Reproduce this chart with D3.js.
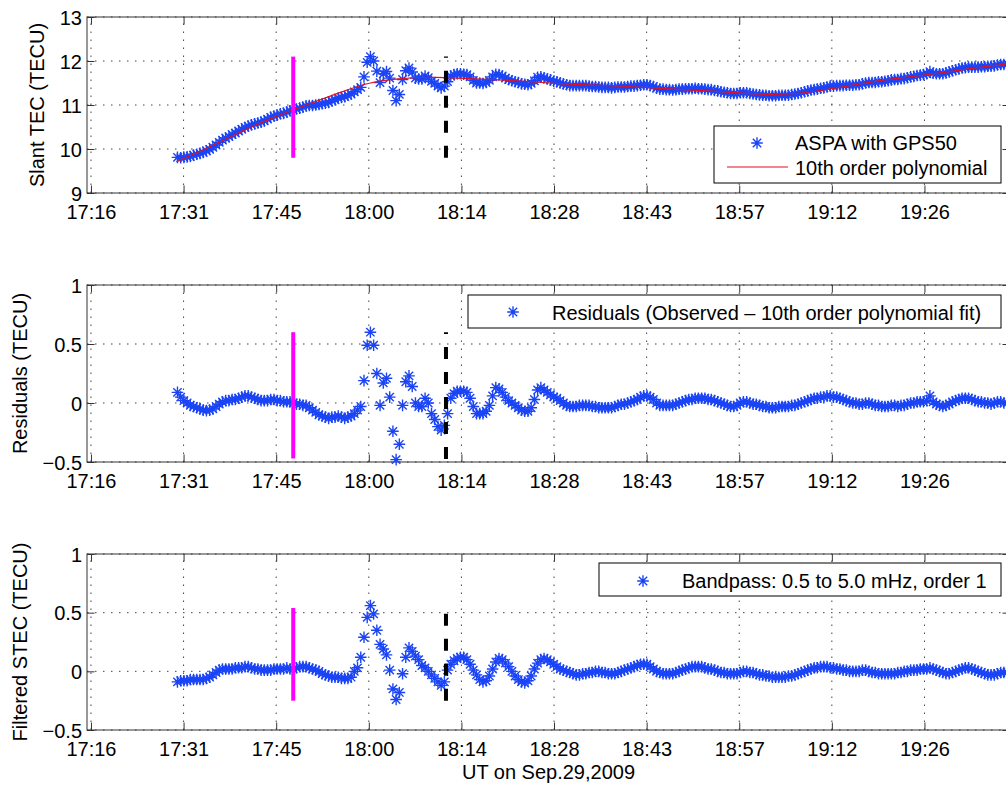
<!DOCTYPE html>
<html>
<head>
<meta charset="utf-8">
<script src="https://cdn.jsdelivr.net/npm/d3@7"></script>
<style>
  body { margin: 0; background: #fff; }
  svg { display: block; }
  text { font-family: "Liberation Sans", Arial, Helvetica, sans-serif; font-size: 20px; fill: #000; }
</style>
</head>
<body>
<svg id="chart" width="1006" height="785"></svg>
<script>
// ---- data ----
const sampleStart = "17:30:15";   // first sample, UT
const sampleStepSec = 30;         // 30 s sampling

const slantTec = [
  9.81,9.80,9.81,9.82,9.83,9.86,9.88,9.90,9.92,9.96,
  9.99,10.04,10.09,10.15,10.20,10.25,10.28,10.33,10.36,10.41,
  10.45,10.49,10.52,10.55,10.57,10.59,10.61,10.64,10.68,10.72,
  10.75,10.77,10.80,10.81,10.84,10.87,10.89,10.91,10.93,10.95,
  10.98,10.99,10.99,11.00,11.01,11.03,11.04,11.06,11.10,11.12,
  11.16,11.17,11.19,11.22,11.25,11.30,11.35,11.40,11.64,11.97,
  12.10,12.00,11.77,11.51,11.71,11.76,11.61,11.33,11.10,11.24,
  11.58,11.78,11.84,11.75,11.61,11.59,11.59,11.66,11.62,11.54,
  11.49,11.43,11.39,11.43,11.53,11.66,11.69,11.71,11.71,11.70,
  11.69,11.64,11.56,11.50,11.50,11.49,11.51,11.56,11.64,11.70,
  11.69,11.66,11.61,11.58,11.55,11.53,11.51,11.48,11.47,11.46,
  11.49,11.55,11.63,11.64,11.62,11.59,11.57,11.54,11.53,11.50,
  11.48,11.46,11.44,11.44,11.44,11.44,11.44,11.44,11.43,11.42,
  11.42,11.41,11.40,11.40,11.40,11.39,11.40,11.41,11.41,11.41,
  11.42,11.43,11.43,11.44,11.45,11.46,11.46,11.44,11.42,11.38,
  11.36,11.36,11.35,11.35,11.34,11.35,11.36,11.36,11.37,11.37,
  11.37,11.38,11.37,11.37,11.36,11.35,11.35,11.33,11.32,11.30,
  11.29,11.28,11.26,11.26,11.26,11.28,11.28,11.28,11.26,11.25,
  11.24,11.23,11.22,11.22,11.21,11.21,11.21,11.22,11.22,11.22,
  11.22,11.24,11.25,11.26,11.28,11.30,11.32,11.34,11.35,11.36,
  11.38,11.39,11.41,11.43,11.43,11.44,11.44,11.44,11.45,11.45,
  11.45,11.46,11.46,11.48,11.50,11.51,11.51,11.51,11.53,11.53,
  11.54,11.55,11.57,11.58,11.58,11.60,11.60,11.62,11.64,11.65,
  11.67,11.68,11.69,11.71,11.76,11.72,11.71,11.71,11.71,11.73,
  11.75,11.78,11.80,11.82,11.84,11.85,11.86,11.86,11.86,11.86,
  11.87,11.87,11.88,11.88,11.89,11.91,11.92,11.92,11.93,11.94
];

// 10th order polynomial, read every 5 min from the first sample
const polyStepSec = 300;
const polyFit = [
  9.72,10.05,10.40,10.72,11.00,11.27,11.50,11.60,11.63,11.60,
  11.57,11.53,11.48,11.45,11.42,11.38,11.34,11.30,11.25,11.25,
  11.33,11.45,11.57,11.66,11.76,11.86,11.95
];

const residuals = [
  0.09,0.05,0.02,0.00,-0.02,-0.03,-0.04,-0.05,-0.06,-0.065,
  -0.06,-0.05,-0.03,-0.01,0.01,0.02,0.02,0.03,0.03,0.04,
  0.05,0.06,0.06,0.05,0.04,0.03,0.02,0.02,0.02,0.03,
  0.03,0.02,0.02,0.01,0.01,0.01,0.00,-0.01,-0.01,-0.02,
  -0.02,-0.04,-0.06,-0.08,-0.10,-0.11,-0.12,-0.13,-0.12,-0.12,
  -0.11,-0.12,-0.13,-0.12,-0.11,-0.09,-0.06,-0.03,0.19,0.49,
  0.60,0.49,0.25,-0.02,0.17,0.21,0.05,-0.24,-0.48,-0.35,
  -0.02,0.18,0.23,0.14,0.00,-0.03,-0.03,0.04,0.00,-0.09,
  -0.14,-0.20,-0.23,-0.19,-0.09,0.04,0.08,0.10,0.10,0.10,
  0.09,0.04,-0.03,-0.09,-0.09,-0.09,-0.07,-0.02,0.06,0.13,
  0.12,0.09,0.05,0.02,0.00,-0.02,-0.04,-0.06,-0.07,-0.07,
  -0.04,0.03,0.11,0.13,0.11,0.09,0.07,0.05,0.04,0.02,
  0.00,-0.02,-0.03,-0.03,-0.03,-0.02,-0.02,-0.02,-0.02,-0.03,
  -0.03,-0.04,-0.04,-0.04,-0.04,-0.04,-0.03,-0.02,-0.01,-0.01,
  0.00,0.01,0.02,0.03,0.05,0.06,0.06,0.05,0.03,0.00,
  -0.02,-0.02,-0.02,-0.02,-0.02,-0.01,0.00,0.01,0.02,0.03,
  0.03,0.04,0.04,0.04,0.04,0.03,0.03,0.02,0.01,0.00,
  -0.01,-0.02,-0.03,-0.03,-0.02,0.00,0.01,0.01,0.00,-0.01,
  -0.01,-0.02,-0.03,-0.03,-0.04,-0.04,-0.04,-0.03,-0.03,-0.03,
  -0.03,-0.02,-0.02,-0.01,0.00,0.01,0.02,0.03,0.04,0.04,
  0.05,0.05,0.06,0.06,0.05,0.05,0.04,0.03,0.02,0.01,
  0.00,0.00,-0.01,-0.01,0.00,0.00,-0.01,-0.02,-0.02,-0.03,
  -0.03,-0.03,-0.02,-0.02,-0.03,-0.02,-0.02,-0.01,0.00,0.00,
  0.01,0.01,0.01,0.02,0.06,0.01,-0.01,-0.02,-0.03,-0.02,
  -0.01,0.01,0.02,0.03,0.04,0.04,0.04,0.03,0.02,0.01,
  0.01,0.00,0.00,-0.01,0.00,0.01,0.01,0.00,0.00,0.00
];

const filtered = [
  -0.09,-0.08,-0.08,-0.08,-0.07,-0.07,-0.07,-0.07,-0.07,-0.06,
  -0.05,-0.03,-0.01,0.01,0.02,0.02,0.02,0.02,0.03,0.03,
  0.03,0.04,0.04,0.03,0.02,0.02,0.01,0.01,0.01,0.01,
  0.02,0.02,0.02,0.02,0.03,0.02,0.02,0.03,0.04,0.04,
  0.04,0.03,0.02,0.01,0.00,-0.02,-0.03,-0.04,-0.05,-0.05,
  -0.05,-0.06,-0.06,-0.06,-0.05,0.00,0.03,0.12,0.29,0.46,
  0.56,0.49,0.35,0.23,0.19,0.14,0.01,-0.15,-0.24,-0.18,
  -0.02,0.12,0.20,0.17,0.13,0.10,0.05,0.03,0.00,-0.03,
  -0.06,-0.09,-0.12,-0.09,0.01,0.06,0.09,0.11,0.12,0.12,
  0.10,0.06,0.01,-0.03,-0.07,-0.09,-0.08,-0.04,0.02,0.08,
  0.11,0.10,0.07,0.04,0.00,-0.04,-0.07,-0.09,-0.10,-0.08,
  -0.04,0.02,0.07,0.10,0.11,0.10,0.08,0.06,0.04,0.02,
  0.01,0.00,-0.01,-0.02,-0.03,-0.03,-0.02,-0.02,-0.01,-0.01,
  0.00,0.00,-0.01,-0.01,-0.02,-0.02,-0.02,-0.01,0.00,0.01,
  0.02,0.03,0.04,0.05,0.06,0.06,0.06,0.04,0.02,0.00,
  -0.01,-0.02,-0.02,-0.02,-0.02,-0.01,0.00,0.01,0.02,0.03,
  0.04,0.04,0.04,0.04,0.03,0.02,0.02,0.01,0.00,-0.01,
  -0.01,-0.02,-0.02,-0.02,-0.02,-0.01,0.00,0.00,-0.01,-0.01,
  -0.02,-0.03,-0.03,-0.04,-0.04,-0.05,-0.05,-0.05,-0.05,-0.05,
  -0.04,-0.04,-0.03,-0.02,-0.01,0.00,0.01,0.02,0.03,0.03,
  0.04,0.04,0.04,0.03,0.03,0.02,0.02,0.01,0.01,0.00,
  0.00,0.00,0.00,0.01,0.01,0.00,-0.01,-0.01,-0.02,-0.02,
  -0.02,-0.02,-0.02,-0.02,-0.01,-0.01,0.00,0.00,0.01,0.01,
  0.01,0.02,0.02,0.02,0.03,0.02,0.01,0.00,-0.01,-0.02,
  -0.02,-0.01,0.00,0.01,0.02,0.03,0.03,0.02,0.01,0.00,
  -0.01,-0.02,-0.03,-0.03,-0.03,-0.02,-0.01,-0.01,-0.01,0.00
];

// MATLAB datetick ticks (0.01 day apart), labels truncated to HH:MM
const xTickTimes = ["17:16:48","17:31:12","17:45:36","18:00:00","18:14:24",
                    "18:28:48","18:43:12","18:57:36","19:12:00","19:26:24"];
const xDomain = ["17:16:11", "19:39:42"];

const tecTicks = [9, 10, 11, 12, 13];
const dTecTicks = [-0.5, 0, 0.5, 1];

// vertical event markers: time + [low, high] per panel
const magentaTime = "17:48:15";
const dashedTime = "18:12:00";
const magentaRanges = [[9.8, 12.1], [-0.47, 0.6], [-0.25, 0.54]];
const dashedRanges  = [[9.8, 12.1], [-0.475, 0.6], [-0.25, 0.49]];

// ---- layout ----
const svg = d3.select("#chart");
const left = 87, right = 1010;
const blue = "#1a44f5", red = "#e3101e", magenta = "#ff00ff";

const parseHMS = s => {
  const [h, m, sec] = s.split(":").map(Number);
  return new Date(Date.UTC(2009, 8, 29, h, m, sec));
};
const t0 = parseHMS(sampleStart);
const sampleTimes = slantTec.map((_, i) => new Date(+t0 + i * sampleStepSec * 1000));
const polyTimes = polyFit.map((_, i) => new Date(+t0 + i * polyStepSec * 1000));

const x = d3.scaleUtc().domain(xDomain.map(parseHMS)).range([left, right]);
const xTicks = xTickTimes.map(parseHMS);
const fmtTime = d3.utcFormat("%H:%M");

const panels = [
  { top: 17, bottom: 193, domain: [9, 13], ticks: tecTicks, values: slantTec,
    label: "Slant TEC (TECU)", labelX: 43.5, poly: true,
    legend: { x0: 714, y0: 126, x1: 1001, y1: 183 } },
  { top: 285, bottom: 462, domain: [-0.5, 1], ticks: dTecTicks, values: residuals,
    label: "Residuals (TECU)", labelX: 26.5,
    legend: { x0: 468, y0: 295, x1: 1001, y1: 328 } },
  { top: 554, bottom: 730, domain: [-0.5, 1], ticks: dTecTicks, values: filtered,
    label: "Filtered STEC (TECU)", labelX: 26.5,
    legend: { x0: 599, y0: 563, x1: 1001, y1: 596 } }
];

function starPath(r) {
  const d = r * 0.72;
  return `M${-r},0H${r}M0,${-r}V${r}M${-d},${-d}L${d},${d}M${-d},${d}L${d},${-d}`;
}
const star = starPath(5.8);
const starWidth = 1.4;

panels.forEach((p, k) => {
  const y = d3.scaleLinear().domain(p.domain).range([p.bottom, p.top]);
  const g = svg.append("g");

  g.append("clipPath").attr("id", "clip" + k)
    .append("rect").attr("x", left).attr("y", p.top)
    .attr("width", right - left).attr("height", p.bottom - p.top);

  // dotted grid
  const grid = g.append("g").attr("stroke", "#444").attr("stroke-width", 1)
    .attr("stroke-dasharray", "1.5,6.5");
  grid.selectAll(".gx").data(xTicks).join("line")
    .attr("x1", d => x(d)).attr("x2", d => x(d))
    .attr("y1", p.bottom).attr("y2", p.top);
  grid.selectAll(".gy").data(p.ticks).join("line")
    .attr("x1", left).attr("x2", right)
    .attr("y1", d => y(d)).attr("y2", d => y(d));

  // axes, MATLAB-style inward ticks on all four sides
  const ax = d3.axisBottom(x).tickValues(xTicks).tickFormat(fmtTime)
    .tickSize(-7.5).tickPadding(11.5);
  g.append("g").attr("transform", `translate(0,${p.bottom})`).call(ax)
    .call(s => s.select(".domain").remove());
  g.append("g").attr("transform", `translate(0,${p.top})`)
    .call(d3.axisTop(x).tickValues(xTicks).tickFormat("").tickSize(-7.5))
    .call(s => s.select(".domain").remove());
  g.append("g").attr("transform", `translate(${left},0)`)
    .call(d3.axisLeft(y).tickValues(p.ticks).tickFormat(d3.format("~g"))
      .tickSize(-7.5).tickPadding(5))
    .call(s => s.select(".domain").remove())
    .call(s => s.selectAll("text").attr("dy", "0.36em"));
  g.append("g").attr("transform", `translate(${right},0)`)
    .call(d3.axisRight(y).tickValues(p.ticks).tickFormat("").tickSize(-7.5))
    .call(s => s.select(".domain").remove());
  g.selectAll(".tick line").attr("stroke", "#333");
  g.selectAll(".tick text").attr("fill", "#000")
    .style("font-size", "20px").style("font-family", '"Liberation Sans", Arial, sans-serif');

  g.append("rect").attr("x", left).attr("y", p.top)
    .attr("width", right - left).attr("height", p.bottom - p.top)
    .attr("fill", "none").attr("stroke", "#333").attr("stroke-width", 1);

  // y label
  g.append("text")
    .attr("transform", `translate(${p.labelX},${(p.top + p.bottom) / 2}) rotate(-90)`)
    .attr("text-anchor", "middle").text(p.label);

  // stars
  g.append("g").attr("fill", "none").attr("stroke", blue).attr("stroke-width", starWidth)
    .selectAll("path").data(p.values).join("path")
    .attr("transform", (d, i) => `translate(${x(sampleTimes[i])},${y(d)})`)
    .attr("d", star);

  if (p.poly) {
    g.append("path").datum(polyFit)
      .attr("clip-path", `url(#clip${k})`)
      .attr("fill", "none").attr("stroke", red).attr("stroke-width", 1.2)
      .attr("d", d3.line().x((d, i) => x(polyTimes[i])).y(d => y(d)).curve(d3.curveNatural));
  }

  // event markers
  const mr = magentaRanges[k], dr = dashedRanges[k];
  g.append("line")
    .attr("x1", x(parseHMS(magentaTime))).attr("x2", x(parseHMS(magentaTime)))
    .attr("y1", y(mr[0])).attr("y2", y(mr[1]))
    .attr("stroke", magenta).attr("stroke-width", 4);
  g.append("line")
    .attr("x1", x(parseHMS(dashedTime))).attr("x2", x(parseHMS(dashedTime)))
    .attr("y1", y(dr[0])).attr("y2", y(dr[1]))
    .attr("stroke", "#000").attr("stroke-width", 4).attr("stroke-dasharray", "12,13");

  // legend
  const L = p.legend;
  const lg = g.append("g");
  lg.append("rect").attr("x", L.x0).attr("y", L.y0)
    .attr("width", L.x1 - L.x0).attr("height", L.y1 - L.y0)
    .attr("fill", "#fff").attr("stroke", "#000").attr("stroke-width", 1);
  if (k === 0) {
    lg.append("path").attr("transform", "translate(757,143)").attr("d", star)
      .attr("fill", "none").attr("stroke", blue).attr("stroke-width", starWidth);
    lg.append("text").attr("x", 795).attr("y", 150).text("ASPA with GPS50");
    lg.append("line").attr("x1", 727).attr("x2", 788).attr("y1", 167).attr("y2", 167)
      .attr("stroke", red).attr("stroke-width", 1.2);
    lg.append("text").attr("x", 795).attr("y", 175).text("10th order polynomial");
  } else if (k === 1) {
    lg.append("path").attr("transform", "translate(513,312)").attr("d", star)
      .attr("fill", "none").attr("stroke", blue).attr("stroke-width", starWidth);
    lg.append("text").attr("x", 552).attr("y", 320)
      .text("Residuals (Observed \u2013 10th order polynomial fit)");
  } else {
    lg.append("path").attr("transform", "translate(643,581)").attr("d", star)
      .attr("fill", "none").attr("stroke", blue).attr("stroke-width", starWidth);
    lg.append("text").attr("x", 682).attr("y", 588)
      .text("Bandpass: 0.5 to 5.0 mHz, order 1");
  }
});

svg.append("text").attr("x", (left + right) / 2).attr("y", 779)
  .attr("text-anchor", "middle").text("UT on Sep.29,2009");
</script>
</body>
</html>
